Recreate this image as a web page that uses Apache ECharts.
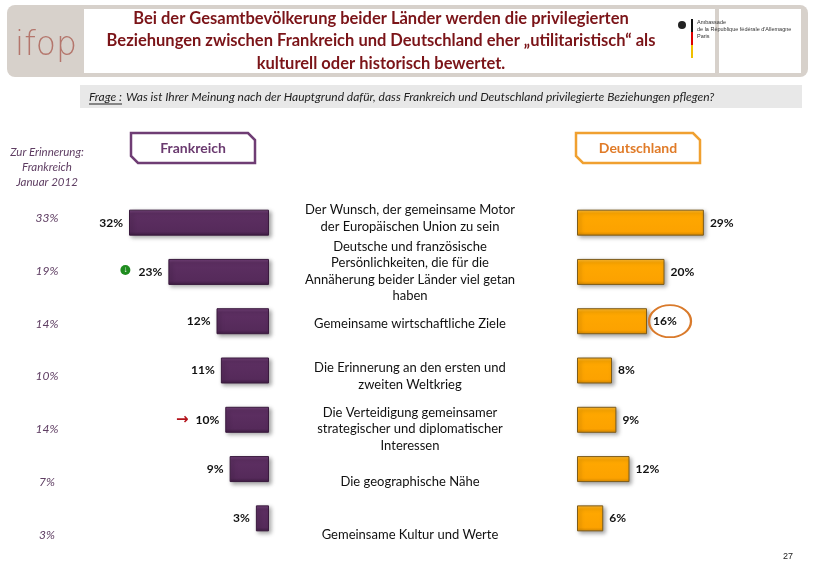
<!DOCTYPE html>
<html><head><meta charset="utf-8">
<script src="https://cdn.jsdelivr.net/npm/echarts@6/dist/echarts.min.js"></script>
<style>html,body{margin:0;padding:0;background:#fff}#c{width:814px;height:573px}</style>
</head><body><div id="c"></div>
<script>
const categories = [
  "Der Wunsch, der gemeinsame Motor\nder Europäischen Union zu sein",
  "Deutsche und französische\nPersönlichkeiten, die für die\nAnnäherung beider Länder viel getan\nhaben",
  "Gemeinsame wirtschaftliche Ziele",
  "Die Erinnerung an den ersten und\nzweiten Weltkrieg",
  "Die Verteidigung gemeinsamer\nstrategischer und diplomatischer\nInteressen",
  "Die geographische Nähe",
  "Gemeinsame Kultur und Werte"
];
const frankreich = [32, 23, 12, 11, 10, 9, 3];
const deutschland = [29, 20, 16, 8, 9, 12, 6];
const erinnerung2012 = [33, 19, 14, 10, 14, 7, 3];

const F = 'Lato, "Open Sans", sans-serif';
const chart = echarts.init(document.getElementById('c'), null, {renderer: 'canvas'});

const purpleGrad = new echarts.graphic.LinearGradient(0, 0, 0, 1, [
  {offset: 0, color: '#74437a'}, {offset: 0.15, color: '#5d2f62'}, {offset: 0.85, color: '#552a5a'}, {offset: 1, color: '#3f1d43'}]);
const orangeGrad = new echarts.graphic.LinearGradient(0, 0, 0, 1, [
  {offset: 0, color: '#ffbb33'}, {offset: 0.15, color: '#ffa800'}, {offset: 0.85, color: '#fca200'}, {offset: 1, color: '#d98a00'}]);

const valLabel = {show: true, fontFamily: F, fontWeight: 'bold', fontSize: 12, color: '#111', distance: 6,
  formatter: p => p.value + '%'};

const option = {
  animation: false,
  backgroundColor: '#fff',
  grid: [
    {left: 94, top: 198, width: 175, height: 345},
    {left: 577, top: 198, width: 175, height: 345},
    {left: 94, top: 192, width: 316, height: 369}
  ],
  xAxis: [
    {gridIndex: 0, type: 'value', min: 0, max: 40, inverse: true, show: false},
    {gridIndex: 1, type: 'value', min: 0, max: 40, show: false},
    {gridIndex: 2, type: 'value', min: 0, max: 1, show: false}
  ],
  yAxis: [
    {gridIndex: 0, type: 'category', inverse: true, data: categories, show: false},
    {gridIndex: 1, type: 'category', inverse: true, data: categories, show: false},
    {gridIndex: 2, type: 'category', inverse: true, position: 'left',
      data: erinnerung2012.map(v => v + '%'),
      axisLine: {show: false}, axisTick: {show: false}, splitLine: {show: false},
      axisLabel: {margin: 47, align: 'center', fontFamily: F, fontStyle: 'italic', fontSize: 12, color: '#5e3d62'}},
    {gridIndex: 2, type: 'category', inverse: true, position: 'right', data: categories,
      axisLine: {show: false}, axisTick: {show: false}, splitLine: {show: false},
      axisLabel: {margin: 0, align: 'center', fontFamily: F, fontSize: 13, color: '#111', lineHeight: 16.5}}
  ],
  series: [
    {name: 'Frankreich', type: 'bar', xAxisIndex: 0, yAxisIndex: 0, data: frankreich, barWidth: 26,
      itemStyle: {color: purpleGrad, borderColor: '#3a1a3e', borderWidth: 1, shadowColor: 'rgba(0,0,0,0.35)', shadowBlur: 4, shadowOffsetX: 2, shadowOffsetY: 2},
      label: Object.assign({position: 'left'}, valLabel),
      markPoint: {
        data: [
          {coord: [23, 1], symbol: 'circle', symbolSize: 10, symbolOffset: [-43, -2],
            itemStyle: {color: '#1f8c1f'},
            label: {show: true, formatter: '↓', color: '#fff', fontSize: 8, fontWeight: 'bold', position: 'inside'}},
          {coord: [10, 4], symbol: 'rect', symbolSize: 1, symbolOffset: [-43, 0],
            itemStyle: {color: 'rgba(0,0,0,0)'},
            label: {show: true, formatter: '→', color: '#b3121a', fontSize: 15, fontWeight: 'bold', position: 'inside', fontFamily: 'DejaVu Sans'}}
        ]
      }
    },
    {name: 'Deutschland', type: 'bar', xAxisIndex: 1, yAxisIndex: 1, data: deutschland, barWidth: 26,
      itemStyle: {color: orangeGrad, borderColor: '#7d5c1c', borderWidth: 1, shadowColor: 'rgba(0,0,0,0.35)', shadowBlur: 4, shadowOffsetX: 2, shadowOffsetY: 2},
      label: Object.assign({position: 'right'}, valLabel),
      markPoint: {
        data: [
          {coord: [16, 2], symbol: 'circle', symbolSize: [42, 32], symbolOffset: [23, 0],
            itemStyle: {color: 'rgba(0,0,0,0)', borderColor: '#d97a2b', borderWidth: 2},
            label: {show: false}}
        ]
      }
    },
    {type: 'scatter', xAxisIndex: 2, yAxisIndex: 2, data: [], silent: true}
  ],
  graphic: [
    {type: 'rect', shape: {x: 7, y: 5, width: 801, height: 72, r: 8}, style: {fill: '#d7d1cb'}, z: 0},
    {type: 'rect', shape: {x: 84, y: 9, width: 631, height: 64}, style: {fill: '#fff'}, z: 1},
    {type: 'rect', shape: {x: 719, y: 9, width: 82, height: 64}, style: {fill: '#fff'}, z: 1},
    {type: 'text', x: 46, y: 46, style: {text: 'ifop', font: '300 33px "DejaVu Sans", sans-serif', fill: '#b4766c', align: 'center', verticalAlign: 'middle'}, z: 2},
    {type: 'text', x: 381, y: 41, style: {text: 'Bei der Gesamtbevölkerung beider Länder werden die privilegierten\nBeziehungen zwischen Frankreich und Deutschland eher „utilitaristisch“ als\nkulturell oder historisch bewertet.',
      font: 'bold 16.5px Lato, sans-serif', fill: '#7b1418', align: 'center', verticalAlign: 'middle', lineHeight: 22.5}, z: 2},
    {type: 'circle', shape: {cx: 682, cy: 25, r: 4}, style: {fill: '#222'}, z: 3},
    {type: 'rect', shape: {x: 691, y: 19, width: 2, height: 13}, style: {fill: '#111'}, z: 3},
    {type: 'rect', shape: {x: 691, y: 32, width: 2, height: 13}, style: {fill: '#d00'}, z: 3},
    {type: 'rect', shape: {x: 691, y: 45, width: 2, height: 13}, style: {fill: '#f0c000'}, z: 3},
    {type: 'text', x: 697, y: 19, style: {text: 'Ambassade\nde la République fédérale d\'Allemagne\nParis', font: '5.5px "Liberation Sans", sans-serif', fill: '#333', lineHeight: 7}, z: 3},
    {type: 'rect', shape: {x: 80, y: 85, width: 722, height: 23}, style: {fill: '#e8e8e8'}, z: 0},
    {type: 'text', x: 89, y: 97, style: {text: 'Frage :', font: 'italic 12px Lato, sans-serif', fill: '#222', verticalAlign: 'middle'}, z: 2},
    {type: 'line', shape: {x1: 89, y1: 104, x2: 122, y2: 104}, style: {stroke: '#222', lineWidth: 1}, z: 2},
    {type: 'text', x: 126, y: 97, style: {text: 'Was ist Ihrer Meinung nach der Hauptgrund dafür, dass Frankreich und Deutschland privilegierte Beziehungen pflegen?', font: 'italic 12px Lato, sans-serif', fill: '#222', verticalAlign: 'middle'}, z: 2},
    {type: 'text', x: 47, y: 167, style: {text: 'Zur Erinnerung:\nFrankreich\nJanuar 2012', font: 'italic 11.5px Lato, sans-serif', fill: '#5e3d62', align: 'center', verticalAlign: 'middle', lineHeight: 15}, z: 2},
    {type: 'polygon', shape: {points: [[131, 133], [248, 133], [255, 140], [255, 163], [138, 163], [131, 156]]}, style: {fill: '#fff', stroke: '#6f3d74', lineWidth: 2.5}, z: 2},
    {type: 'text', x: 193, y: 148, style: {text: 'Frankreich', font: 'bold 14px Lato, sans-serif', fill: '#6a3a6f', align: 'center', verticalAlign: 'middle'}, z: 3},
    {type: 'polygon', shape: {points: [[576, 133], [693, 133], [700, 140], [700, 163], [583, 163], [576, 156]]}, style: {fill: '#fff', stroke: '#f0a030', lineWidth: 2.5}, z: 2},
    {type: 'text', x: 638, y: 148, style: {text: 'Deutschland', font: 'bold 14px Lato, sans-serif', fill: '#e07b28', align: 'center', verticalAlign: 'middle'}, z: 3},
    {type: 'text', x: 788, y: 557, style: {text: '27', font: '9px "Liberation Sans", sans-serif', fill: '#222', align: 'center', verticalAlign: 'middle'}, z: 2}
  ]
};
chart.setOption(option);
</script>
</body></html>
